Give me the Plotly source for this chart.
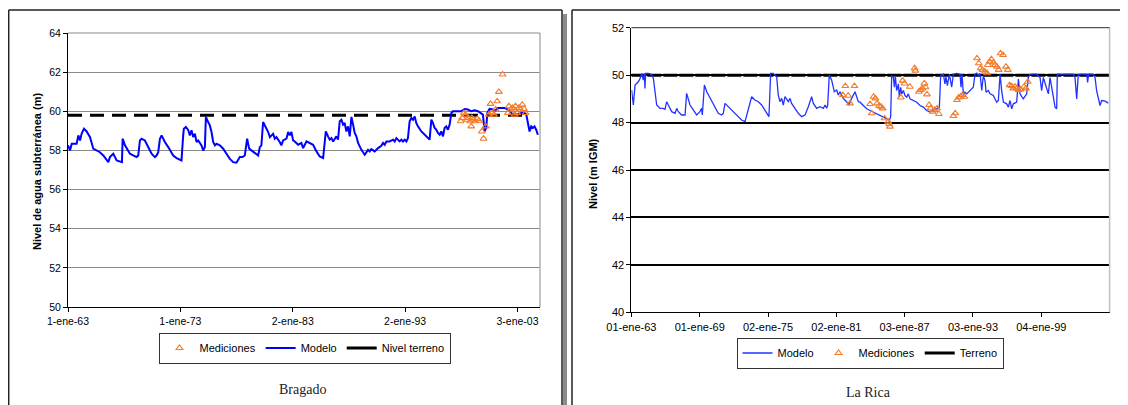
import plotly.graph_objects as go

W, H = 1128, 405

# ---------------- Bragado (left) ----------------
bra_model_year = [
    1963.00, 1963.18, 1963.33, 1963.77, 1963.92, 1964.07, 1964.21, 1964.42, 1964.66, 1964.96,
    1965.25, 1965.55, 1965.84, 1966.14, 1966.44, 1966.59, 1966.73, 1967.03, 1967.18, 1967.33,
    1967.80, 1967.86, 1968.07, 1968.51, 1969.10, 1969.25, 1969.40, 1969.55, 1969.84, 1970.14,
    1970.44, 1970.73, 1970.88, 1971.03, 1971.18, 1971.33, 1971.62, 1971.92, 1972.36, 1972.66,
    1973.10, 1973.25, 1973.31, 1973.49, 1973.70, 1973.84, 1973.99, 1974.14, 1974.29, 1974.44,
    1974.59, 1974.88, 1975.03, 1975.18, 1975.27, 1975.47, 1975.62, 1975.77, 1975.92, 1976.07,
    1976.21, 1976.51, 1976.81, 1977.10, 1977.40, 1977.70, 1977.99, 1978.29, 1978.53, 1978.73,
    1978.94, 1979.12, 1979.33, 1979.62, 1979.92, 1980.07, 1980.21, 1980.36, 1980.51, 1980.81,
    1980.96, 1981.25, 1981.40, 1981.55, 1981.84, 1981.99, 1982.14, 1982.44, 1982.59, 1982.73,
    1982.88, 1983.03, 1983.18, 1983.48, 1983.77, 1983.92, 1984.22, 1984.51, 1984.81, 1985.11,
    1985.40, 1985.70, 1985.79, 1985.94, 1986.14, 1986.29, 1986.44, 1986.59, 1986.88, 1987.03,
    1987.18, 1987.33, 1987.48, 1987.62, 1987.77, 1987.92, 1988.07, 1988.22, 1988.37, 1988.51,
    1988.66, 1988.81, 1989.11, 1989.40, 1989.70, 1989.85, 1989.99, 1990.29, 1990.59, 1990.88,
    1991.03, 1991.18, 1991.33, 1991.62, 1991.92, 1992.07, 1992.22, 1992.37, 1992.51, 1992.66,
    1992.81, 1992.96, 1993.11, 1993.25, 1993.40, 1993.55, 1993.70, 1993.85, 1993.99, 1994.14,
    1994.29, 1994.44, 1994.59, 1994.74, 1994.88, 1995.03, 1995.18, 1995.33, 1995.48, 1995.62,
    1995.77, 1995.92, 1996.07, 1996.22, 1996.37, 1996.51, 1996.66, 1996.81, 1996.96, 1997.11,
    1997.25, 1997.40, 1997.70, 1997.99, 1998.29, 1998.59, 1998.88, 1999.18, 1999.48, 1999.77,
    1999.92, 2000.07, 2000.22, 2000.31, 2000.51, 2000.81, 2000.96, 2001.25, 2001.55, 2001.85,
    2002.14, 2002.44, 2002.74, 2003.04, 2003.33, 2003.63, 2003.78, 2003.92, 2004.07, 2004.22,
    2004.37, 2004.51, 2004.66, 2004.81,
]
bra_model_level = [
    58.26, 58.00, 58.34, 58.34, 58.77, 58.51, 58.85, 59.11, 58.97, 58.68,
    58.09, 58.00, 57.91, 57.74, 57.49, 57.40, 57.66, 57.83, 57.66, 57.49,
    57.40, 58.60, 58.26, 57.83, 57.66, 57.74, 58.51, 58.60, 58.51, 58.17,
    57.83, 57.66, 57.74, 57.91, 58.60, 58.77, 58.43, 58.17, 57.74, 57.61,
    57.49, 58.77, 59.11, 59.20, 59.03, 58.77, 59.03, 58.68, 58.85, 58.43,
    58.51, 58.26, 58.00, 58.17, 59.71, 59.45, 59.28, 58.94, 58.43, 58.26,
    58.34, 58.26, 58.09, 57.83, 57.57, 57.40, 57.37, 57.66, 57.66, 57.74,
    58.60, 58.09, 58.00, 57.83, 57.74, 58.17, 58.26, 59.45, 59.28, 58.94,
    58.68, 58.85, 58.60, 58.68, 58.43, 58.26, 58.51, 58.60, 58.94, 58.77,
    58.94, 58.51, 58.46, 58.29, 58.38, 58.12, 58.46, 58.38, 58.29, 57.95,
    57.69, 57.61, 58.03, 58.97, 58.72, 58.55, 58.63, 58.46, 58.72, 58.55,
    59.49, 59.57, 59.32, 59.40, 58.97, 59.23, 58.72, 59.71, 59.32, 58.89,
    58.72, 58.38, 58.03, 57.78, 58.03, 57.95, 58.07, 57.95, 58.12, 58.24,
    58.38, 58.29, 58.46, 58.46, 58.55, 58.46, 58.63, 58.55, 58.46, 58.55,
    58.46, 58.55, 58.46, 58.63, 59.49, 59.66, 59.57, 59.74, 59.40, 59.23,
    59.06, 58.97, 58.89, 58.80, 58.72, 58.63, 58.55, 59.57, 59.40, 59.15,
    59.06, 58.89, 58.80, 58.97, 58.72, 59.15, 59.23, 59.06, 59.32, 59.91,
    60.00, 60.00, 60.00, 60.00, 60.12, 60.09, 60.00, 60.05, 60.00, 59.91,
    59.83, 58.97, 59.15, 59.91, 60.12, 60.09, 60.00, 60.17, 60.17, 60.17,
    60.09, 59.91, 59.83, 59.83, 59.91, 59.91, 59.83, 59.40, 58.97, 59.23,
    59.15, 59.23, 59.06, 58.80,
]
bra_meas_year = [
    1997.94, 1998.08, 1998.23, 1998.35, 1998.50, 1998.65, 1998.79, 1998.88, 1998.94, 1999.09,
    1999.24, 1999.42, 1999.57, 1999.83, 1999.98, 2000.16, 2000.45, 2000.60, 2000.75, 2000.90,
    2001.05, 2001.19, 2001.34, 2001.67, 2002.14, 2002.23, 2002.38, 2002.53, 2002.68, 2002.74,
    2002.82, 2002.97, 2003.12, 2003.27, 2003.42, 2003.57, 2003.72,
]
bra_meas_level = [
    59.49, 59.66, 59.91, 59.83, 59.57, 59.66, 59.49, 59.23, 59.66, 59.57,
    59.49, 59.61, 59.52, 58.97, 58.60, 59.23, 59.83, 60.38, 59.91, 59.83,
    60.09, 60.51, 60.99, 61.88, 59.91, 60.26, 60.09, 60.17, 60.09, 59.83,
    60.26, 59.91, 60.17, 60.09, 60.34, 60.12, 59.91,
]
bra_terrain_year = [1963.0, 2003.7]
bra_terrain_level = [59.8, 59.8]
bra_tickvals = [1963, 1973, 1983, 1993, 2003]
bra_ticktext = ["1-ene-63", "1-ene-73", "2-ene-83", "2-ene-93", "3-ene-03"]

# ---------------- La Rica (right) ----------------
ric_model_year = [
    1963.02, 1963.17, 1963.32, 1963.61, 1963.76, 1963.90, 1964.05, 1964.14, 1964.19, 1964.25,
    1964.49, 1964.78, 1964.93, 1965.08, 1965.22, 1965.51, 1965.80, 1965.95, 1966.10, 1966.24,
    1966.54, 1966.83, 1966.98, 1967.12, 1967.41, 1967.71, 1967.85, 1968.15, 1968.44, 1968.73,
    1969.02, 1969.17, 1969.23, 1969.41, 1969.62, 1969.91, 1970.20, 1970.63, 1970.93, 1971.07,
    1971.22, 1971.51, 1971.81, 1972.10, 1972.39, 1972.68, 1972.98, 1973.12, 1973.41, 1973.56,
    1973.85, 1974.15, 1974.44, 1974.73, 1975.08, 1975.23, 1975.46, 1975.76, 1975.90, 1976.05,
    1976.20, 1976.34, 1976.49, 1976.78, 1976.93, 1977.07, 1977.37, 1977.66, 1977.95, 1978.25,
    1978.54, 1978.83, 1978.98, 1979.27, 1979.56, 1979.86, 1980.01, 1980.15, 1980.24, 1980.38,
    1980.59, 1980.82, 1981.03, 1981.17, 1981.32, 1981.61, 1981.90, 1982.11, 1982.34, 1982.64,
    1982.93, 1983.08, 1983.37, 1983.67, 1983.96, 1984.25, 1984.54, 1984.84, 1985.13, 1985.42,
    1985.66, 1985.77, 1985.86, 1986.01, 1986.10, 1986.18, 1986.30, 1986.45, 1986.53, 1986.65,
    1986.74, 1986.89, 1987.03, 1987.18, 1987.32, 1987.47, 1987.76, 1988.06, 1988.35, 1988.64,
    1988.93, 1989.23, 1989.52, 1989.81, 1990.05, 1990.16, 1990.40, 1990.54, 1990.63, 1990.75,
    1990.93, 1991.13, 1991.28, 1991.57, 1991.86, 1991.95, 1992.04, 1992.16, 1992.30, 1992.45,
    1992.74, 1993.03, 1993.18, 1993.33, 1993.47, 1993.62, 1993.77, 1993.91, 1994.06, 1994.15,
    1994.35, 1994.50, 1994.79, 1995.08, 1995.23, 1995.38, 1995.52, 1995.67, 1995.96, 1996.11,
    1996.25, 1996.40, 1996.55, 1996.84, 1996.99, 1997.13, 1997.42, 1997.72, 1997.86, 1998.01,
    1998.30, 1998.60, 1998.89, 1999.03, 1999.18, 1999.47, 1999.62, 1999.77, 2000.06, 2000.21,
    2000.35, 2000.41, 2000.64, 2001.23, 2001.81, 2001.96, 2002.11, 2002.25, 2002.69, 2002.99,
    2003.07, 2003.16, 2003.57, 2003.72, 2003.86, 2004.01, 2004.16, 2004.30, 2004.60, 2004.89,
]
ric_model_level = [
    49.37, 48.74, 49.58, 49.72, 49.86, 50.07, 49.79, 50.07, 49.44, 50.07,
    50.07, 50.03, 49.86, 49.30, 48.74, 48.60, 48.60, 48.56, 48.88, 48.74,
    48.46, 48.39, 48.60, 48.46, 48.32, 48.32, 49.23, 48.74, 48.53, 48.32,
    48.46, 48.60, 48.32, 49.58, 49.30, 49.02, 48.74, 48.39, 48.32, 48.39,
    48.81, 48.67, 48.53, 48.39, 48.25, 48.11, 48.04, 48.32, 48.88, 49.09,
    48.95, 48.88, 48.74, 48.53, 48.25, 50.07, 50.07, 49.93, 49.16, 48.88,
    49.02, 48.74, 49.09, 48.88, 49.02, 48.81, 48.60, 48.39, 48.25, 48.32,
    48.67, 49.09, 48.81, 48.60, 48.67, 48.60, 48.74, 48.60, 48.74, 50.00,
    49.79, 49.30, 49.37, 49.16, 49.30, 49.02, 48.88, 48.74, 49.02, 49.30,
    48.88, 48.86, 48.72, 48.58, 48.51, 48.44, 48.38, 48.31, 48.26, 48.17,
    48.10, 48.24, 49.97, 49.90, 49.49, 49.97, 49.35, 49.63, 49.07, 49.49,
    49.21, 49.35, 49.14, 49.07, 49.21, 49.00, 48.93, 48.86, 48.72, 48.65,
    48.51, 48.44, 48.51, 48.58, 48.65, 49.97, 50.04, 49.63, 49.93, 49.56,
    50.04, 49.49, 50.04, 50.07, 50.04, 49.49, 50.04, 49.14, 49.28, 49.21,
    49.35, 49.49, 50.04, 50.08, 49.97, 50.07, 49.35, 49.97, 49.76, 49.28,
    49.35, 49.21, 49.14, 48.86, 48.93, 50.04, 49.35, 48.86, 48.79, 48.65,
    48.93, 48.58, 48.79, 48.86, 49.83, 49.21, 49.00, 49.21, 49.90, 50.04,
    50.04, 50.04, 49.90, 49.35, 49.90, 49.49, 49.21, 49.90, 49.07, 48.65,
    48.58, 50.04, 50.04, 50.04, 50.04, 49.90, 49.00, 50.04, 50.04, 50.04,
    49.69, 50.04, 50.04, 49.90, 49.35, 49.00, 48.72, 48.93, 48.90, 48.82,
]
ric_meas_year = [
    1981.57, 1981.79, 1982.04, 1982.20, 1982.59, 1983.96, 1984.11, 1984.27, 1984.43, 1984.59,
    1984.75, 1984.91, 1985.07, 1985.23, 1985.55, 1985.64, 1985.71, 1986.66, 1986.82, 1986.98,
    1987.46, 1987.87, 1987.94, 1988.25, 1988.41, 1988.57, 1988.73, 1988.83, 1988.96, 1989.15,
    1989.27, 1989.46, 1989.62, 1989.85, 1990.01, 1991.28, 1991.44, 1991.60, 1991.76, 1991.92,
    1992.08, 1992.24, 1993.35, 1993.51, 1993.67, 1993.83, 1994.05, 1994.24, 1994.31, 1994.46,
    1994.62, 1994.78, 1994.94, 1995.10, 1995.26, 1995.42, 1995.64, 1995.90, 1996.06, 1996.22,
    1996.38, 1996.54, 1996.69, 1996.85, 1997.01, 1997.17, 1997.49, 1997.65, 1997.81,
]
ric_meas_level = [
    49.16, 49.54, 49.13, 48.81, 49.54, 48.78, 48.39, 49.09, 49.02, 48.81,
    48.70, 48.67, 48.60, 48.18, 48.04, 47.94, 47.83, 49.06, 49.77, 49.65,
    49.51, 50.29, 50.19, 49.30, 49.37, 49.44, 49.65, 49.49, 49.19, 48.74,
    48.60, 48.46, 48.53, 48.60, 48.36, 48.28, 48.39, 48.95, 49.06, 49.09,
    49.16, 49.09, 50.71, 50.50, 50.29, 50.22, 50.15, 50.08, 50.43, 50.57,
    50.67, 50.53, 50.43, 50.36, 50.22, 50.92, 50.85, 50.36, 50.22, 49.58,
    49.54, 49.44, 49.51, 49.44, 49.37, 49.40, 49.51, 49.44, 49.72,
]
ric_terrain_year = [1963.0, 2005.0]
ric_terrain_level = [50.0, 50.0]
ric_tickvals = [1963, 1969, 1975, 1981, 1987, 1993, 1999]
ric_ticktext = ["01-ene-63", "01-ene-69", "02-ene-75", "02-ene-81",
                "03-ene-87", "03-ene-93", "04-ene-99"]

# ---------------- helpers (page pixel -> paper; page has an 8px body margin) ----
OFF = 8

def px(x):
    return (x - OFF) / W

def py(y):
    return 1 - (y - OFF) / H

FONT = "Liberation Sans, Arial, sans-serif"
SERIF = "Liberation Serif, Times New Roman, serif"
ORANGE = "#F47B2A"
BLUE = "#0000FF"

fig = go.Figure()

# ---- left traces ----
fig.add_trace(go.Scatter(
    x=bra_terrain_year, y=bra_terrain_level, mode="lines",
    line=dict(color="black", width=3, dash="14px,8px"),
    showlegend=False, xaxis="x", yaxis="y", hoverinfo="skip"))
fig.add_trace(go.Scatter(
    x=bra_model_year, y=bra_model_level, mode="lines", name="Modelo",
    line=dict(color=BLUE, width=2), legend="legend", legendrank=2,
    xaxis="x", yaxis="y"))
fig.add_trace(go.Scatter(
    x=bra_meas_year, y=bra_meas_level, mode="markers", name="Mediciones",
    marker=dict(symbol="triangle-up-open", size=6, color=ORANGE,
                line=dict(width=1.1, color=ORANGE)),
    legend="legend", legendrank=1, xaxis="x", yaxis="y"))
fig.add_trace(go.Scatter(
    x=[None], y=[None], mode="lines", name="Nivel terreno",
    line=dict(color="black", width=3), legend="legend", legendrank=3,
    xaxis="x", yaxis="y"))

# ---- right traces ----
fig.add_trace(go.Scatter(
    x=ric_terrain_year, y=ric_terrain_level, mode="lines",
    line=dict(color="black", width=3, dash="14px,2px"),
    showlegend=False, xaxis="x2", yaxis="y2", hoverinfo="skip"))
fig.add_trace(go.Scatter(
    x=ric_model_year, y=ric_model_level, mode="lines", name="Modelo",
    line=dict(color="#2233FF", width=1.3), legend="legend2", legendrank=1,
    xaxis="x2", yaxis="y2"))
fig.add_trace(go.Scatter(
    x=ric_meas_year, y=ric_meas_level, mode="markers", name="Mediciones",
    marker=dict(symbol="triangle-up-open", size=6, color=ORANGE,
                line=dict(width=1.1, color=ORANGE)),
    legend="legend2", legendrank=2, xaxis="x2", yaxis="y2"))
fig.add_trace(go.Scatter(
    x=[None], y=[None], mode="lines", name="Terreno",
    line=dict(color="black", width=3), legend="legend2", legendrank=3,
    xaxis="x2", yaxis="y2"))

def axis_common(size):
    return dict(zeroline=False, showline=True, linecolor="black", linewidth=1,
                ticks="outside", ticklen=4, tickcolor="black", automargin=False,
                tickfont=dict(family=FONT, size=size, color="black"))

fig.update_layout(
    template="none",
    width=W, height=H,
    margin=dict(l=0, r=0, t=0, b=0, pad=0, autoexpand=False),
    paper_bgcolor="white", plot_bgcolor="white",
    font=dict(family=FONT, size=10, color="black"),
    xaxis=dict(domain=[px(68), px(540)], range=[1963, 2005], anchor="y",
               tickvals=bra_tickvals, ticktext=bra_ticktext, showgrid=False,
               **axis_common(10.5)),
    yaxis=dict(domain=[py(307), py(33)], range=[50, 64], dtick=2, anchor="x",
               showgrid=True, gridcolor="#8a8a8a", gridwidth=1, **axis_common(10.5)),
    xaxis2=dict(domain=[px(631.4), px(1109.6)], range=[1963, 2005], anchor="y2",
                tickvals=ric_tickvals, ticktext=ric_ticktext, showgrid=False,
                **axis_common(11)),
    yaxis2=dict(domain=[py(312.3), py(27.7)], range=[40, 52], dtick=2, anchor="x2",
                showgrid=True, gridcolor="black", gridwidth=1.5, **axis_common(11)),
    legend=dict(orientation="h", x=px(304.5), y=py(348), xanchor="center", yanchor="middle",
                bgcolor="white", bordercolor="#333333", borderwidth=1,
                font=dict(family=FONT, size=11, color="black"),
                traceorder="normal", itemsizing="trace", itemwidth=30),
    legend2=dict(orientation="h", x=px(870), y=py(353), xanchor="center", yanchor="middle",
                 bgcolor="white", bordercolor="#333333", borderwidth=1,
                 font=dict(family=FONT, size=11, color="black"),
                 traceorder="normal", itemsizing="trace", itemwidth=30),
    showlegend=True,
)

# ---- plot-area borders (gray top/right) and panel frames ----
shapes = [
    dict(type="line", xref="x domain", yref="y domain", x0=1, x1=1, y0=0, y1=1,
         line=dict(color="#b0b0b0", width=1.5)),
    dict(type="line", xref="x domain", yref="y domain", x0=0, x1=1, y0=1, y1=1,
         line=dict(color="#8a8a8a", width=1)),
    dict(type="line", xref="x2 domain", yref="y2 domain", x0=1, x1=1, y0=0, y1=1,
         line=dict(color="#c0c0c0", width=1.5)),
    dict(type="line", xref="x2 domain", yref="y2 domain", x0=0, x1=1, y0=1, y1=1,
         line=dict(color="#555555", width=1.2)),
    dict(type="line", xref="paper", yref="paper", x0=px(8.7), x1=px(562), y0=py(10), y1=py(10),
         line=dict(color="#222222", width=1.5)),
    dict(type="line", xref="paper", yref="paper", x0=px(8.7), x1=px(8.7), y0=py(10), y1=0,
         line=dict(color="#222222", width=1.5)),
    dict(type="line", xref="paper", yref="paper", x0=px(562), x1=px(562), y0=py(10), y1=0,
         line=dict(color="#222222", width=1.5)),
    dict(type="rect", xref="paper", yref="paper", x0=px(563), x1=px(567), y0=py(14), y1=0,
         line=dict(width=0), fillcolor="#8c8c8c"),
    dict(type="line", xref="paper", yref="paper", x0=px(572), x1=1, y0=py(10), y1=py(10),
         line=dict(color="#222222", width=1.5)),
    dict(type="line", xref="paper", yref="paper", x0=px(572), x1=px(572), y0=py(10), y1=0,
         line=dict(color="#222222", width=1.5)),
]
fig.update_layout(shapes=shapes)

annotations = [
    dict(text="<b>Nivel de agua subterránea (m)</b>", xref="paper", yref="paper",
         x=px(37), y=py(172), textangle=-90, showarrow=False,
         font=dict(family=FONT, size=11, color="black"), xanchor="center", yanchor="middle"),
    dict(text="<b>Nivel (m IGM)</b>", xref="paper", yref="paper",
         x=px(593), y=py(174), textangle=-90, showarrow=False,
         font=dict(family=FONT, size=11, color="black"), xanchor="center", yanchor="middle"),
    dict(text="Bragado", xref="paper", yref="paper", x=px(302), y=py(389),
         showarrow=False, font=dict(family=SERIF, size=14, color="#222222"),
         xanchor="center", yanchor="middle"),
    dict(text="La Rica", xref="paper", yref="paper", x=px(868), y=py(392),
         showarrow=False, font=dict(family=SERIF, size=14, color="#222222"),
         xanchor="center", yanchor="middle"),
]
fig.update_layout(annotations=annotations)

fig.write_html("out.html")
